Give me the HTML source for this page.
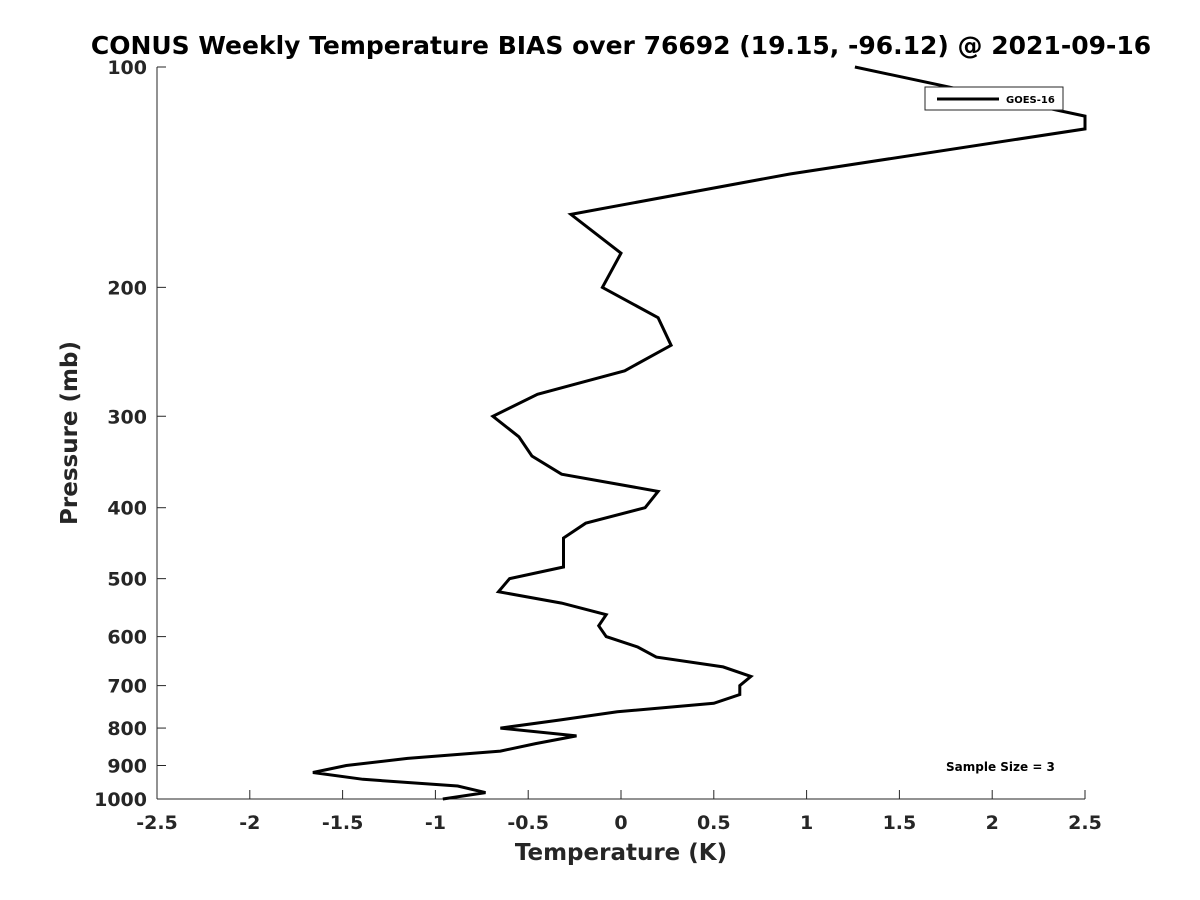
<!DOCTYPE html>
<html><head><meta charset="utf-8"><style>
body{margin:0;background:#fff;}
svg{display:block;font-family:"DejaVu Sans","Liberation Sans",sans-serif;}
</style></head><body>
<svg id="chart" width="1200" height="900">
<rect width="1200" height="900" fill="#fff"/>
<text x="621" y="54" text-anchor="middle" font-size="25" font-weight="bold" fill="#000">CONUS Weekly Temperature BIAS over 76692 (19.15, -96.12) @ 2021-09-16</text>
<g id="axes"></g>
<text x="621" y="860" text-anchor="middle" font-size="23" font-weight="bold" fill="#262626">Temperature (K)</text>
<text transform="translate(77,433) rotate(-90)" text-anchor="middle" font-size="23" font-weight="bold" fill="#262626">Pressure (mb)</text>
<g id="plot"></g>
<g>
<rect x="925" y="87" width="138" height="23" fill="#fff" stroke="#262626" stroke-width="1"/>
<line x1="937" y1="99" x2="999" y2="99" stroke="#000" stroke-width="3"/>
<text x="1006" y="103" font-size="10" font-weight="bold" fill="#000">GOES-16</text>
</g>
<text x="946" y="771" font-size="12" font-weight="bold" fill="#000">Sample Size = 3</text>
</svg>
<script>
const xTicks=[-2.5,-2,-1.5,-1,-0.5,0,0.5,1,1.5,2,2.5];
const xTickLabels=["-2.5","-2","-1.5","-1","-0.5","0","0.5","1","1.5","2","2.5"];
const yTicks=[100,200,300,400,500,600,700,800,900,1000];
const yTickLabels=["100","200","300","400","500","600","700","800","900","1000"];
const biasValues=[1.26,2.5,2.5,0.91,-0.27,0.0,-0.10,0.2,0.27,0.02,-0.45,-0.69,-0.55,-0.48,-0.32,0.2,0.13,-0.19,-0.31,-0.31,-0.6,-0.66,-0.32,-0.08,-0.12,-0.08,0.09,0.19,0.55,0.7,0.64,0.64,0.5,-0.02,-0.33,-0.65,-0.24,-0.46,-0.65,-1.15,-1.48,-1.66,-1.39,-0.88,-0.73,-0.96];
const pressureLevels=[100,116.7,121.5,140,159,179.6,200,220,240,260,280,300,320,340,360,380,400,420,440,482,500,521,540,560,580,600,620,640,660,680,700,720,740,760,780,800,820,840,860,880,900,920,940,960,980,1000];
const X0=157,X1=1085,Y0=67,Y1=799;
const xs=v=>X0+(v+2.5)/5*(X1-X0);
const ys=p=>Y0+Math.log10(p/100)*(Y1-Y0);
const NS="http://www.w3.org/2000/svg";
const plot=document.getElementById('plot');
const axes=document.getElementById('axes');
function mk(tag,attrs,parent){const e=document.createElementNS(NS,tag);for(const k in attrs)e.setAttribute(k,attrs[k]);parent.appendChild(e);return e;}
const ax=mk('line',{x1:X0,y1:Y1,x2:X1,y2:Y1,stroke:'#262626','stroke-width':1},axes);


const ay=mk('line',{x1:X0,y1:Y0,x2:X0,y2:Y1,stroke:'#262626','stroke-width':1},axes);


xTicks.forEach((v,i)=>{
 const x=xs(v);
 mk('line',{x1:x,y1:Y1,x2:x,y2:Y1-9,stroke:'#262626'},axes);
 const t=mk('text',{x:x,y:Y1+30,'text-anchor':'middle','font-size':19,'font-weight':'bold',fill:'#262626'},axes);
 t.textContent=xTickLabels[i];
 
 
});
yTicks.forEach((p,i)=>{
 const y=ys(p);
 mk('line',{x1:X0,y1:y,x2:X0+9,y2:y,stroke:'#262626'},axes);
 const t=mk('text',{x:X0-10,y:y+7,'text-anchor':'end','font-size':19,'font-weight':'bold',fill:'#262626'},axes);
 t.textContent=yTickLabels[i];
 
 
});
const pts=biasValues.map((v,i)=>xs(v).toFixed(1)+','+ys(pressureLevels[i]).toFixed(1)).join(' ');
const line=mk('polyline',{points:pts,fill:'none',stroke:'#000','stroke-width':3,'stroke-linejoin':'miter'},plot);


</script>
</body></html>
